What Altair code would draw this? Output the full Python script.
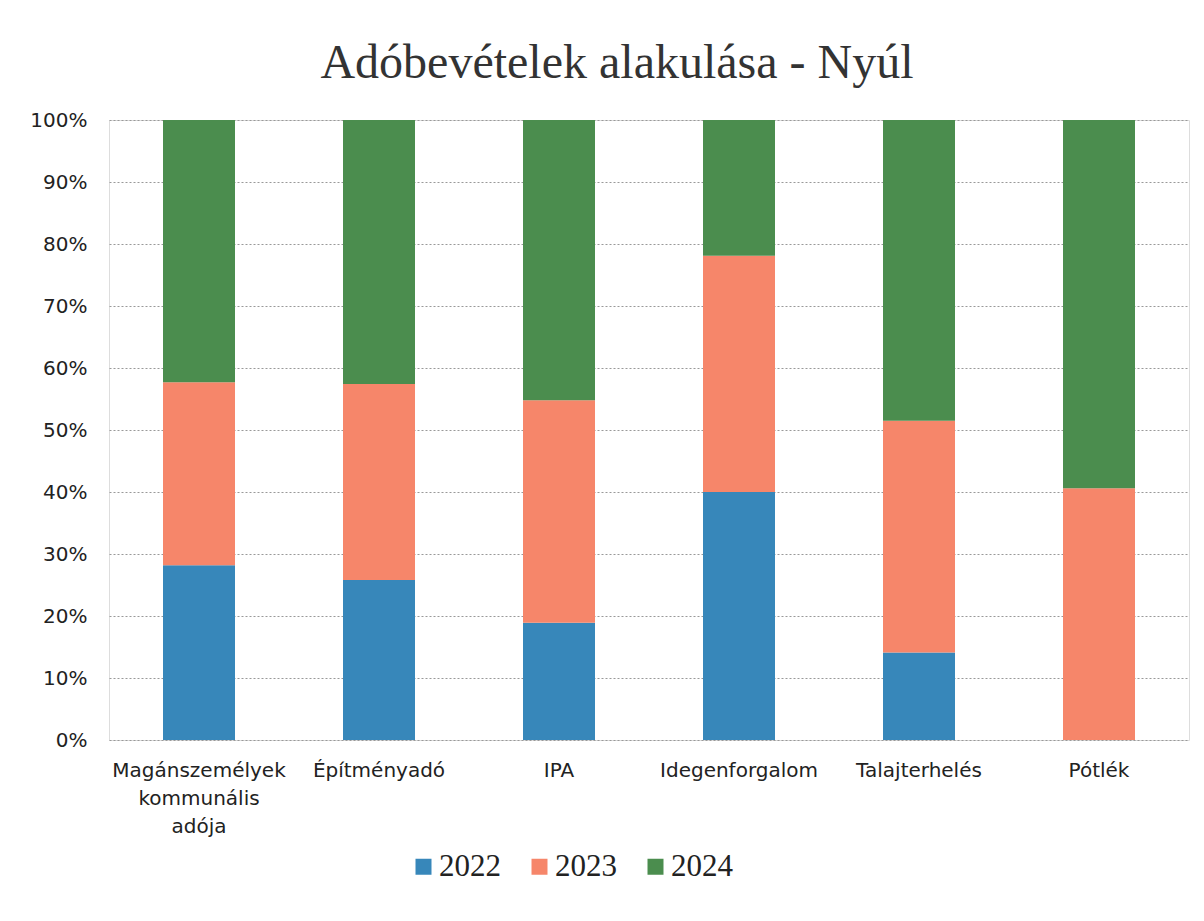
import altair as alt
import pandas as pd

categories = ["Magánszemélyek kommunális adója", "Építményadó", "IPA",
              "Idegenforgalom", "Talajterhelés", "Pótlék"]
years = ["2022", "2023", "2024"]
v2022 = [28.2, 25.8, 18.9, 40.0, 14.1, 0.0]
v2023 = [29.5, 31.6, 35.9, 38.1, 37.4, 40.6]
v2024 = [42.3, 42.6, 45.2, 21.9, 48.5, 59.4]
colors = ["#3787BA", "#F6866A", "#4B8D4E"]

rows = []
for i, c in enumerate(categories):
    for y, vals in zip(years, [v2022, v2023, v2024]):
        rows.append({"kategoria": c, "ev": y, "ertek": vals[i], "rend": years.index(y)})
df = pd.DataFrame(rows)

label_expr = ("datum.label == 'Magánszemélyek kommunális adója' ? "
              "['Magánszemélyek', 'kommunális', 'adója'] : datum.label")

chart = alt.Chart(df).mark_bar(size=72).encode(
    x=alt.X("kategoria:N", sort=categories, title=None,
            scale=alt.Scale(paddingInner=0.6, paddingOuter=0.3),
            axis=alt.Axis(labelAngle=0, labelExpr=label_expr, labelFont="DejaVu Sans",
                          labelFontSize=20, labelColor="#222222", labelPadding=20,
                          labelLineHeight=28, ticks=False, domain=False,
                          labelBaseline="top")),
    y=alt.Y("ertek:Q", stack="normalize", title=None,
            scale=alt.Scale(domain=[0, 1]),
            axis=alt.Axis(format="%", values=[0, 0.1, 0.2, 0.3, 0.4, 0.5, 0.6, 0.7, 0.8, 0.9, 1.0],
                          labelFont="DejaVu Sans", labelFontSize=20, labelColor="#222222",
                          labelPadding=22, ticks=False, domain=False,
                          grid=True, gridColor="#999999", gridDash=[2, 2], gridWidth=1)),
    color=alt.Color("ev:N", scale=alt.Scale(domain=years, range=colors),
                    legend=alt.Legend(title=None, orient="none", direction="horizontal",
                                      legendX=299, legendY=731,
                                      symbolType="square", symbolSize=256, symbolStrokeWidth=0,
                                      labelFont="Liberation Serif", labelFontSize=31,
                                      labelColor="#222222", columnPadding=23,
                                      labelOffset=0)),
    order=alt.Order("rend:Q", sort="ascending"),
).properties(
    width=1080,
    height=620,
    padding={"left": 21, "top": 32, "right": 5, "bottom": 5},
    title=alt.Title("Adóbevételek alakulása - Nyúl", font="Liberation Serif", fontSize=48,
                    fontWeight="normal", color="#333333", offset=22, anchor="middle", dx=-32),
).configure_view(stroke=None).configure(background="white")

chart.save("out.html", embed_options={"renderer": "svg", "actions": False})
